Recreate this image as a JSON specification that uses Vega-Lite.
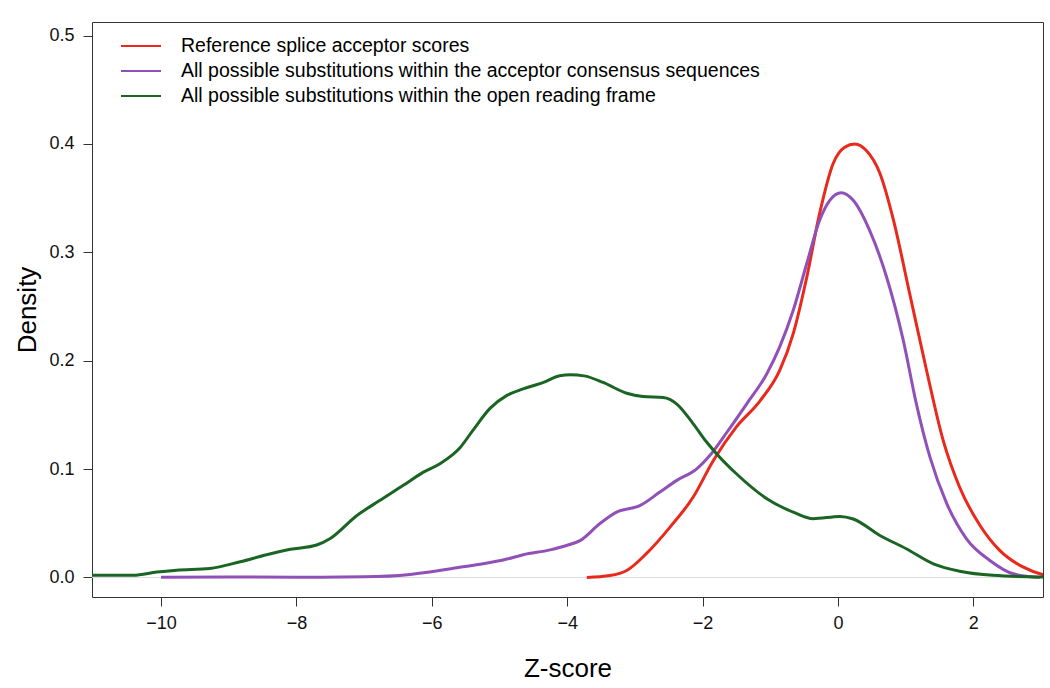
{
  "$schema": "https://vega.github.io/schema/vega-lite/v6.json",
  "width": 951,
  "height": 575,
  "autosize": {"type": "none"},
  "padding": {"left": 92, "top": 22, "right": 7, "bottom": 91},
  "background": "white",
  "config": {
    "view": {"stroke": "#333333", "strokeWidth": 1},
    "font": "Liberation Sans",
    "axis": {"grid": false, "domain": false, "tickColor": "#333333", "tickSize": 9, "labelFont": "Liberation Sans", "titleFont": "Liberation Sans", "labelColor": "#111111", "titleColor": "#000000", "titleFontWeight": "normal"}
  },
  "data": {"values": [
    {"series": "Reference splice acceptor scores", "z": -3.71, "density": 0},
    {"series": "Reference splice acceptor scores", "z": -3.37, "density": 0.0018},
    {"series": "Reference splice acceptor scores", "z": -3.12, "density": 0.0065},
    {"series": "Reference splice acceptor scores", "z": -2.83, "density": 0.022},
    {"series": "Reference splice acceptor scores", "z": -2.48, "density": 0.0465},
    {"series": "Reference splice acceptor scores", "z": -2.14, "density": 0.074},
    {"series": "Reference splice acceptor scores", "z": -1.84, "density": 0.108},
    {"series": "Reference splice acceptor scores", "z": -1.5, "density": 0.139},
    {"series": "Reference splice acceptor scores", "z": -1.15, "density": 0.163},
    {"series": "Reference splice acceptor scores", "z": -0.86, "density": 0.191},
    {"series": "Reference splice acceptor scores", "z": -0.66, "density": 0.225},
    {"series": "Reference splice acceptor scores", "z": -0.46, "density": 0.277},
    {"series": "Reference splice acceptor scores", "z": -0.27, "density": 0.336},
    {"series": "Reference splice acceptor scores", "z": -0.07, "density": 0.382},
    {"series": "Reference splice acceptor scores", "z": 0.1, "density": 0.397},
    {"series": "Reference splice acceptor scores", "z": 0.25, "density": 0.4},
    {"series": "Reference splice acceptor scores", "z": 0.42, "density": 0.394},
    {"series": "Reference splice acceptor scores", "z": 0.62, "density": 0.373},
    {"series": "Reference splice acceptor scores", "z": 0.82, "density": 0.33},
    {"series": "Reference splice acceptor scores", "z": 1.06, "density": 0.262},
    {"series": "Reference splice acceptor scores", "z": 1.31, "density": 0.191},
    {"series": "Reference splice acceptor scores", "z": 1.555, "density": 0.1265},
    {"series": "Reference splice acceptor scores", "z": 1.8, "density": 0.083},
    {"series": "Reference splice acceptor scores", "z": 2.1, "density": 0.048},
    {"series": "Reference splice acceptor scores", "z": 2.39, "density": 0.025},
    {"series": "Reference splice acceptor scores", "z": 2.74, "density": 0.0095},
    {"series": "Reference splice acceptor scores", "z": 3.02, "density": 0.0028},
    {"series": "Reference splice acceptor scores", "z": 3.2, "density": 0.001},

    {"series": "All possible substitutions within the acceptor consensus sequences", "z": -10.0, "density": 0.0003},
    {"series": "All possible substitutions within the acceptor consensus sequences", "z": -9.0, "density": 0.0005},
    {"series": "All possible substitutions within the acceptor consensus sequences", "z": -8.0, "density": 0.0002},
    {"series": "All possible substitutions within the acceptor consensus sequences", "z": -7.0, "density": 0.0006},
    {"series": "All possible substitutions within the acceptor consensus sequences", "z": -6.32, "density": 0.0028},
    {"series": "All possible substitutions within the acceptor consensus sequences", "z": -6.03, "density": 0.005},
    {"series": "All possible substitutions within the acceptor consensus sequences", "z": -5.63, "density": 0.009},
    {"series": "All possible substitutions within the acceptor consensus sequences", "z": -5.24, "density": 0.0126},
    {"series": "All possible substitutions within the acceptor consensus sequences", "z": -4.89, "density": 0.017},
    {"series": "All possible substitutions within the acceptor consensus sequences", "z": -4.65, "density": 0.021},
    {"series": "All possible substitutions within the acceptor consensus sequences", "z": -4.25, "density": 0.0255},
    {"series": "All possible substitutions within the acceptor consensus sequences", "z": -4.01, "density": 0.0295},
    {"series": "All possible substitutions within the acceptor consensus sequences", "z": -3.81, "density": 0.034},
    {"series": "All possible substitutions within the acceptor consensus sequences", "z": -3.52, "density": 0.0496},
    {"series": "All possible substitutions within the acceptor consensus sequences", "z": -3.27, "density": 0.0603},
    {"series": "All possible substitutions within the acceptor consensus sequences", "z": -2.92, "density": 0.0665},
    {"series": "All possible substitutions within the acceptor consensus sequences", "z": -2.63, "density": 0.0788},
    {"series": "All possible substitutions within the acceptor consensus sequences", "z": -2.38, "density": 0.0896},
    {"series": "All possible substitutions within the acceptor consensus sequences", "z": -2.09, "density": 0.1},
    {"series": "All possible substitutions within the acceptor consensus sequences", "z": -1.89, "density": 0.1127},
    {"series": "All possible substitutions within the acceptor consensus sequences", "z": -1.64, "density": 0.134},
    {"series": "All possible substitutions within the acceptor consensus sequences", "z": -1.35, "density": 0.16},
    {"series": "All possible substitutions within the acceptor consensus sequences", "z": -1.05, "density": 0.188},
    {"series": "All possible substitutions within the acceptor consensus sequences", "z": -0.86, "density": 0.2127},
    {"series": "All possible substitutions within the acceptor consensus sequences", "z": -0.66, "density": 0.2465},
    {"series": "All possible substitutions within the acceptor consensus sequences", "z": -0.46, "density": 0.2897},
    {"series": "All possible substitutions within the acceptor consensus sequences", "z": -0.27, "density": 0.3296},
    {"series": "All possible substitutions within the acceptor consensus sequences", "z": -0.12, "density": 0.348},
    {"series": "All possible substitutions within the acceptor consensus sequences", "z": 0.05, "density": 0.355},
    {"series": "All possible substitutions within the acceptor consensus sequences", "z": 0.226, "density": 0.348},
    {"series": "All possible substitutions within the acceptor consensus sequences", "z": 0.47, "density": 0.32},
    {"series": "All possible substitutions within the acceptor consensus sequences", "z": 0.72, "density": 0.277},
    {"series": "All possible substitutions within the acceptor consensus sequences", "z": 0.965, "density": 0.219},
    {"series": "All possible substitutions within the acceptor consensus sequences", "z": 1.16, "density": 0.16},
    {"series": "All possible substitutions within the acceptor consensus sequences", "z": 1.36, "density": 0.111},
    {"series": "All possible substitutions within the acceptor consensus sequences", "z": 1.61, "density": 0.068},
    {"series": "All possible substitutions within the acceptor consensus sequences", "z": 1.9, "density": 0.0357},
    {"series": "All possible substitutions within the acceptor consensus sequences", "z": 2.245, "density": 0.0157},
    {"series": "All possible substitutions within the acceptor consensus sequences", "z": 2.59, "density": 0.0034},
    {"series": "All possible substitutions within the acceptor consensus sequences", "z": 2.98, "density": 0.0},

    {"series": "All possible substitutions within the open reading frame", "z": -11.5, "density": 0.002},
    {"series": "All possible substitutions within the open reading frame", "z": -11.05, "density": 0.002},
    {"series": "All possible substitutions within the open reading frame", "z": -10.41, "density": 0.002},
    {"series": "All possible substitutions within the open reading frame", "z": -10.06, "density": 0.005},
    {"series": "All possible substitutions within the open reading frame", "z": -9.77, "density": 0.0067},
    {"series": "All possible substitutions within the open reading frame", "z": -9.28, "density": 0.0083},
    {"series": "All possible substitutions within the open reading frame", "z": -8.83, "density": 0.0145},
    {"series": "All possible substitutions within the open reading frame", "z": -8.44, "density": 0.021},
    {"series": "All possible substitutions within the open reading frame", "z": -8.09, "density": 0.026},
    {"series": "All possible substitutions within the open reading frame", "z": -7.7, "density": 0.03},
    {"series": "All possible substitutions within the open reading frame", "z": -7.5, "density": 0.036},
    {"series": "All possible substitutions within the open reading frame", "z": -7.11, "density": 0.057},
    {"series": "All possible substitutions within the open reading frame", "z": -6.77, "density": 0.071},
    {"series": "All possible substitutions within the open reading frame", "z": -6.42, "density": 0.085},
    {"series": "All possible substitutions within the open reading frame", "z": -6.13, "density": 0.097},
    {"series": "All possible substitutions within the open reading frame", "z": -5.88, "density": 0.105},
    {"series": "All possible substitutions within the open reading frame", "z": -5.58, "density": 0.12},
    {"series": "All possible substitutions within the open reading frame", "z": -5.39, "density": 0.136},
    {"series": "All possible substitutions within the open reading frame", "z": -5.14, "density": 0.156},
    {"series": "All possible substitutions within the open reading frame", "z": -4.89, "density": 0.168},
    {"series": "All possible substitutions within the open reading frame", "z": -4.65, "density": 0.174},
    {"series": "All possible substitutions within the open reading frame", "z": -4.35, "density": 0.18},
    {"series": "All possible substitutions within the open reading frame", "z": -4.11, "density": 0.1862},
    {"series": "All possible substitutions within the open reading frame", "z": -3.95, "density": 0.187},
    {"series": "All possible substitutions within the open reading frame", "z": -3.75, "density": 0.186},
    {"series": "All possible substitutions within the open reading frame", "z": -3.47, "density": 0.18},
    {"series": "All possible substitutions within the open reading frame", "z": -3.12, "density": 0.17},
    {"series": "All possible substitutions within the open reading frame", "z": -2.88, "density": 0.167},
    {"series": "All possible substitutions within the open reading frame", "z": -2.58, "density": 0.166},
    {"series": "All possible substitutions within the open reading frame", "z": -2.38, "density": 0.16},
    {"series": "All possible substitutions within the open reading frame", "z": -2.14, "density": 0.142},
    {"series": "All possible substitutions within the open reading frame", "z": -1.94, "density": 0.125},
    {"series": "All possible substitutions within the open reading frame", "z": -1.79, "density": 0.114},
    {"series": "All possible substitutions within the open reading frame", "z": -1.5, "density": 0.0957},
    {"series": "All possible substitutions within the open reading frame", "z": -1.05, "density": 0.0727},
    {"series": "All possible substitutions within the open reading frame", "z": -0.66, "density": 0.0603},
    {"series": "All possible substitutions within the open reading frame", "z": -0.365, "density": 0.0542},
    {"series": "All possible substitutions within the open reading frame", "z": 0.03, "density": 0.0563},
    {"series": "All possible substitutions within the open reading frame", "z": 0.226, "density": 0.054},
    {"series": "All possible substitutions within the open reading frame", "z": 0.62, "density": 0.0388},
    {"series": "All possible substitutions within the open reading frame", "z": 1.01, "density": 0.0265},
    {"series": "All possible substitutions within the open reading frame", "z": 1.41, "density": 0.0126},
    {"series": "All possible substitutions within the open reading frame", "z": 1.8, "density": 0.0058},
    {"series": "All possible substitutions within the open reading frame", "z": 2.29, "density": 0.002},
    {"series": "All possible substitutions within the open reading frame", "z": 2.98, "density": 0.0005},
    {"series": "All possible substitutions within the open reading frame", "z": 3.2, "density": 0.0004}
  ]},
  "layer": [
    {
      "mark": {"type": "rule", "color": "#dddddd", "strokeWidth": 1},
      "encoding": {"y": {"datum": 0, "type": "quantitative", "scale": {"domain": [-0.018, 0.5125], "nice": false, "zero": false}}}
    },
    {
      "mark": {"type": "line", "interpolate": "monotone", "strokeWidth": 3, "clip": true},
      "encoding": {
        "x": {"field": "z", "type": "quantitative",
              "scale": {"domain": [-11.02, 3.03], "nice": false, "zero": false},
              "axis": {"values": [-10, -8, -6, -4, -2, 0, 2], "title": "Z-score", "titleFontSize": 26, "labelFontSize": 18, "labelPadding": 8, "titlePadding": 23}},
        "y": {"field": "density", "type": "quantitative",
              "scale": {"domain": [-0.018, 0.5125], "nice": false, "zero": false},
              "axis": {"values": [0, 0.1, 0.2, 0.3, 0.4, 0.5], "format": ".1f", "title": "Density", "titleFontSize": 26, "labelFontSize": 18, "labelPadding": 9, "titlePadding": 8}},
        "color": {"field": "series", "type": "nominal",
                  "scale": {"domain": ["Reference splice acceptor scores", "All possible substitutions within the acceptor consensus sequences", "All possible substitutions within the open reading frame"],
                            "range": ["#e8291c", "#9150b8", "#1a6424"]},
                  "legend": {"title": null, "orient": "none", "legendX": 38, "legendY": 13, "symbolType": "M-2,0H2", "symbolSize": 400, "symbolStrokeWidth": 2, "labelFontSize": 19.5, "labelFont": "Liberation Sans", "labelColor": "#000000", "labelOffset": 29, "rowPadding": 4, "padding": 0, "labelLimit": 800}},
        "order": {"field": "z", "type": "quantitative"}
      }
    }
  ]
}
